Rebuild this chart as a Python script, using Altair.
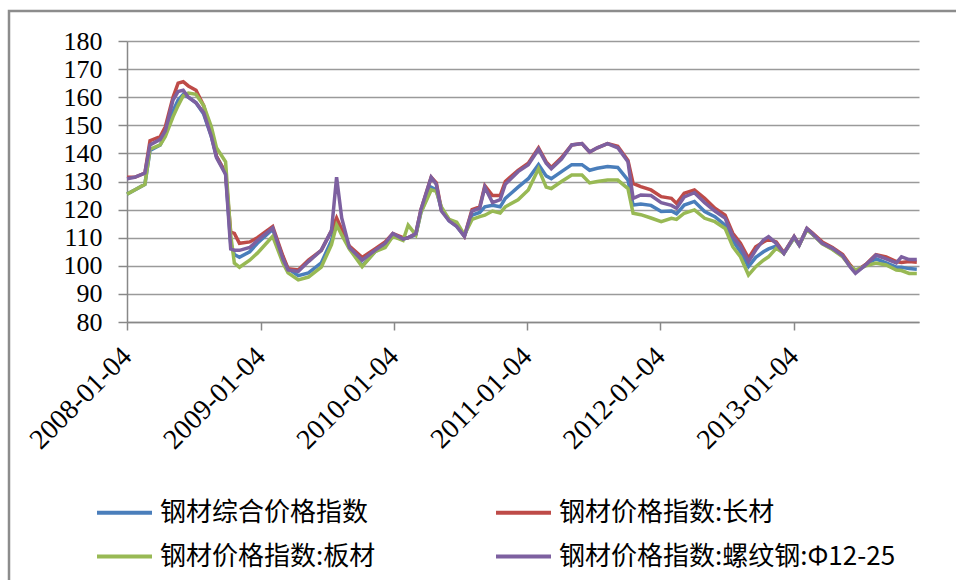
import altair as alt
import pandas as pd

dates = [
    "2008-01-04", "2008-01-25", "2008-02-22", "2008-03-07", "2008-04-04", "2008-04-18",
    "2008-05-09", "2008-05-23", "2008-06-06", "2008-06-20", "2008-07-11", "2008-08-01",
    "2008-08-22", "2008-09-05", "2008-09-30", "2008-10-14", "2008-10-24", "2008-11-07",
    "2008-12-05", "2008-12-26", "2009-02-06", "2009-03-06", "2009-03-20", "2009-04-17",
    "2009-05-15", "2009-06-19", "2009-07-17", "2009-07-31", "2009-08-14", "2009-09-04",
    "2009-10-09", "2009-11-13", "2009-12-11", "2010-01-01", "2010-01-29", "2010-02-12",
    "2010-03-05", "2010-03-19", "2010-04-16", "2010-04-30", "2010-05-14", "2010-06-04",
    "2010-06-25", "2010-07-16", "2010-08-06", "2010-08-27", "2010-09-10", "2010-10-01",
    "2010-10-22", "2010-11-05", "2010-12-10", "2011-01-07", "2011-02-04", "2011-02-25",
    "2011-03-11", "2011-04-08", "2011-05-06", "2011-06-03", "2011-06-24", "2011-07-15",
    "2011-08-12", "2011-09-09", "2011-10-07", "2011-10-21", "2011-11-11", "2011-12-09",
    "2012-01-06", "2012-02-03", "2012-02-17", "2012-03-09", "2012-04-06", "2012-05-04",
    "2012-06-01", "2012-06-29", "2012-07-20", "2012-08-10", "2012-09-01", "2012-09-21",
    "2012-10-12", "2012-10-26", "2012-11-16", "2012-12-07", "2013-01-04", "2013-01-18",
    "2013-02-08", "2013-02-22", "2013-03-22", "2013-04-19", "2013-05-17", "2013-06-07",
    "2013-06-21", "2013-07-19", "2013-08-16", "2013-09-13", "2013-10-11", "2013-10-25",
    "2013-11-15", "2013-12-06",
]

composite = [
    125.5, 127, 129, 141, 143, 147, 155, 159, 161, 160, 158, 154,
    146, 139, 133, 108, 104, 103, 105, 108, 113, 103, 99, 96.5,
    97.5, 101, 109, 116, 112, 106.5, 100, 105, 107.5, 110.5, 109.5, 110,
    111, 119, 128, 127, 120, 116, 114, 110.5, 118, 119, 121, 121.5,
    121, 124, 128, 131, 136, 132, 131, 133.5, 136, 136, 134, 134.7,
    135.3, 135, 130.5, 121.6, 122, 121.5, 119.3, 119.5, 118.5, 121.6, 122.9, 119.3,
    117.5, 114.5, 109, 105, 99.7, 103, 105, 106, 107, 104.4, 110, 107.4,
    113, 111.4, 108, 106, 103.5, 100, 97.8, 100.3, 102.5, 101, 99.5, 99.5,
    99, 98.8,
]
long_prod = [
    131.5, 131.5, 133, 144.5, 146, 149.5, 160, 165, 165.5, 164, 162.5, 157,
    147, 139, 133, 112, 111.5, 108, 108.5, 110, 114, 103.5, 99, 98.5,
    102, 105.5, 112.5, 117, 113, 107, 103, 106, 108.5, 111.5, 110, 110,
    111.5, 120, 131.5, 129.5, 120, 116.5, 114.5, 110.5, 120, 121, 128.5, 125,
    125, 130, 134, 136.5, 142, 137, 135, 138.5, 143, 143.5, 140.5, 142,
    143.5, 142.5, 137.5, 129.3, 128.2, 127, 124.6, 124, 122.2, 125.8, 127, 124,
    120.5, 118, 111.6, 108, 102.7, 106.8, 108.5, 109.5, 108.5, 104.6, 110.4, 107.5,
    113.3, 111.8, 108.5, 106.5, 104, 100.2, 98, 100.5, 104, 103.2, 101.5, 101.2,
    101.5, 101.3,
]
plate = [
    125.5, 127, 129, 141.5, 143, 146, 153, 157, 160.5, 161.5, 161, 157,
    149.5, 142, 137, 111, 101, 99.5, 102, 104.5, 110.5, 101, 97.5, 95,
    96, 99.5, 107.5, 114.5, 111, 106, 99.7, 105, 106.5, 110.5, 109, 114.5,
    111, 119, 127, 126.5, 121, 116.5, 115.5, 111, 116.5, 117.5, 118, 119.5,
    118.8, 121, 123.5, 127, 134.5, 128, 127.5, 130, 132.3, 132.3, 129.5, 130,
    130.5, 130.5, 127.5, 118.7, 118.2, 117, 115.7, 116.9, 116.5, 118.7, 119.9, 116.9,
    115.7, 113.3, 106.8, 103.2, 96.7, 99.7, 102, 103.2, 106.2, 104.4, 110, 107.4,
    112.8, 111.4, 107.8, 105.8, 103.2, 99.8, 98.5, 100, 101, 100.3, 98.5, 98.3,
    97.3, 97.3,
]
rebar = [
    131, 131.5, 133, 143, 145, 148, 159, 162, 162.5, 160, 158, 154.5,
    146, 138.5, 132.5, 106, 105.5, 105.5, 106.5, 109, 113.5, 102.5, 98.5, 98,
    101.5, 105.5, 112.5, 131.5, 117, 106.5, 102, 105.5, 108, 111.5, 109.5, 110,
    111.5, 120, 131.5, 129, 119.5, 116, 114, 110.5, 119.5, 120.5, 128, 122.5,
    123.5, 129, 133.5, 136, 141.5, 136.5, 134.5, 138, 143, 143.5, 140.5, 142,
    143.5, 142, 137, 124, 125.2, 125, 122.5, 121.5, 120.5, 124.5, 126, 122.5,
    119.5, 117, 110.5, 107, 101.5, 105.6, 109.2, 110.4, 108, 104.4, 110.4, 107.4,
    113.3, 111.6, 108, 106.2, 103.6, 99.5, 97.3, 100.3, 103.8, 102.5, 101, 103.2,
    102.2, 102.2,
]

series_names = [
    "钢材综合价格指数",
    "钢材价格指数:长材",
    "钢材价格指数:板材",
    "钢材价格指数:螺纹钢:Φ12-25",
]
series_colors = ["#4A7EBB", "#BE4B48", "#98B954", "#7D60A0"]
y_ticks = [80, 90, 100, 110, 120, 130, 140, 150, 160, 170, 180]
x_tick_years = [2008, 2009, 2010, 2011, 2012, 2013]

rows = []
for name, vals in zip(series_names, [composite, long_prod, plate, rebar]):
    for d, v in zip(dates, vals):
        rows.append({"date": d, "value": v, "series": name})
df = pd.DataFrame(rows)

W, H = 792, 281
PAD_L, PAD_T = 127, 41
SERIF = "Times New Roman, serif"

lines = alt.Chart(df).mark_line(strokeWidth=3.5).encode(
    x=alt.X(
        "date:T",
        scale=alt.Scale(
            type="utc",
            domain=[
                alt.DateTime(year=2008, month=1, date=4, utc=True),
                alt.DateTime(year=2013, month=12, date=12, utc=True),
            ],
            nice=False,
        ),
        axis=alt.Axis(
            values=[alt.DateTime(year=y, month=1, date=4, utc=True) for y in x_tick_years],
            labelExpr="utcFormat(datum.value, '%Y-%m-%d')",
            labelAngle=-45,
            labelAlign="right",
            labelBaseline="middle",
            labelFont=SERIF,
            labelFontSize=28,
            labelColor="#000000",
            labelPadding=22,
            tickSize=8,
            tickColor="#888888",
            tickWidth=1.5,
            domainColor="#888888",
            domainWidth=1.5,
            grid=False,
            title=None,
        ),
    ),
    y=alt.Y(
        "value:Q",
        scale=alt.Scale(domain=[80, 180], nice=False, zero=False),
        axis=alt.Axis(
            values=y_ticks,
            labelFont=SERIF,
            labelFontSize=26,
            labelColor="#000000",
            labelPadding=16,
            tickSize=9,
            tickColor="#888888",
            tickWidth=1.5,
            domainColor="#888888",
            domainWidth=1.5,
            grid=True,
            gridColor="#9A9A9A",
            gridWidth=1.5,
            title=None,
        ),
    ),
    color=alt.Color(
        "series:N",
        scale=alt.Scale(domain=series_names, range=series_colors),
        sort=series_names,
        legend=alt.Legend(
            title=None,
            orient="none",
            direction="horizontal",
            legendX=-32,
            legendY=442,
            columns=2,
            columnPadding=112,
            rowPadding=1,
            values=series_names,
            symbolType="stroke",
            symbolSize=3025,
            symbolStrokeWidth=4,
            labelFont="Noto Sans CJK SC",
            labelFontSize=26,
            labelColor="#000000",
            labelOffset=6,
            labelLimit=500,
            padding=0,
        ),
    ),
)

frame = alt.Chart(alt.Data(values=[{}])).mark_rect(
    fill=None, stroke="#8C8C8C", strokeWidth=2.5
).encode(
    x=alt.value(-118),
    x2=alt.value(W + 80),
    y=alt.value(-30),
    y2=alt.value(H + 320),
)

chart = alt.layer(frame, lines).properties(
    width=W,
    height=H,
    autosize=alt.AutoSizeParams(type="none"),
    padding={"left": PAD_L, "top": PAD_T, "right": 956 - PAD_L - W, "bottom": 580 - PAD_T - H},
    background="white",
).configure_view(stroke=None)

chart.save("out.html", embed_options={"renderer": "svg", "actions": False})
